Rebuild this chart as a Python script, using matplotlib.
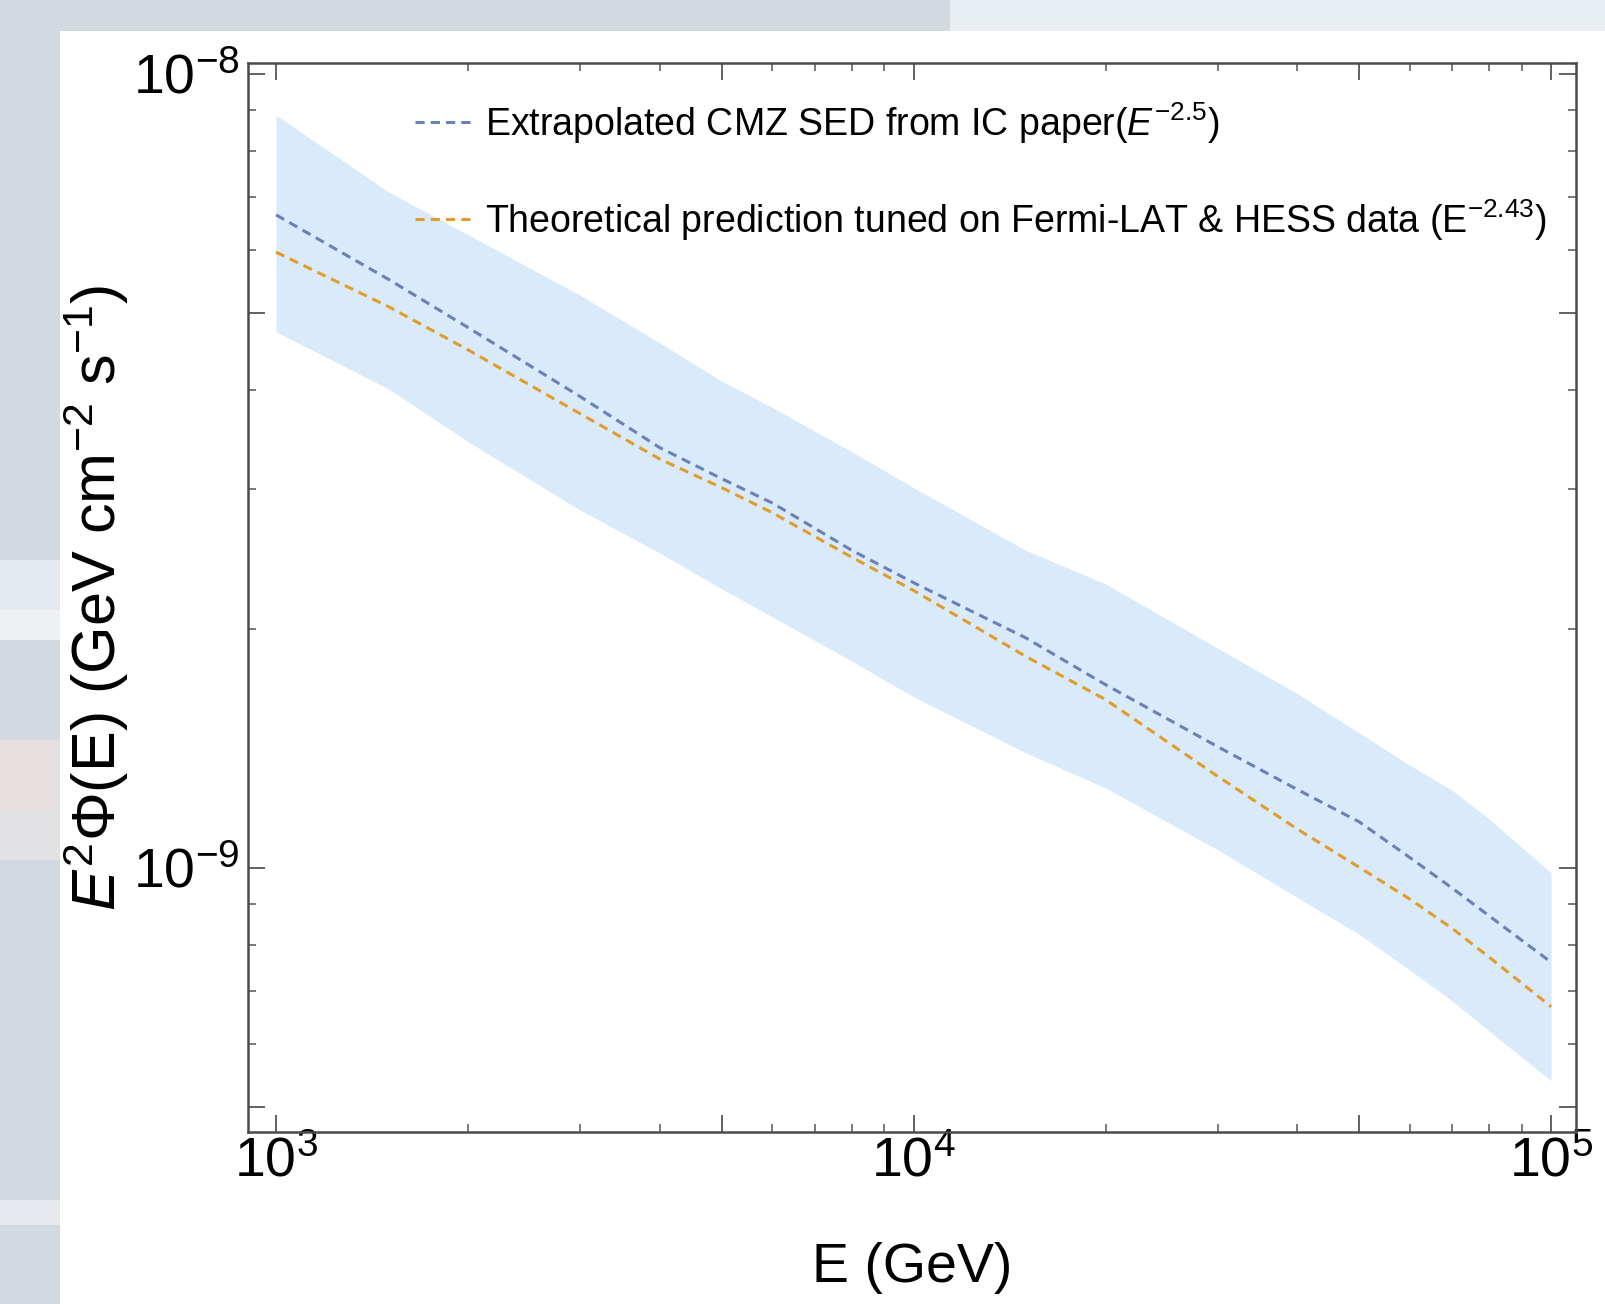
import numpy as np
import matplotlib
matplotlib.use('Agg')
import matplotlib.pyplot as plt
from matplotlib import font_manager
from matplotlib.ticker import FixedLocator, NullFormatter
from matplotlib.patches import Rectangle

# pick a narrow sans if it is there, the original lettering is condensed
names = {f.name for f in font_manager.fontManager.ttflist}
font = 'Liberation Sans Narrow' if 'Liberation Sans Narrow' in names else 'Liberation Sans'
plt.rcParams['font.family'] = [font, 'DejaVu Sans']
plt.rcParams['mathtext.fontset'] = 'custom'
plt.rcParams['mathtext.rm'] = font
plt.rcParams['mathtext.it'] = font + ':italic'
plt.rcParams['mathtext.bf'] = font + ':bold'

# energy grid (GeV)
energy = [1000, 1500, 2000, 3000, 4000, 5000, 6000, 8000, 10000, 15000,
          20000, 30000, 40000, 50000, 60000, 70000, 80000, 100000]

# extrapolated CMZ SED, E^-2.5 (GeV cm^-2 s^-1)
cmz_sed = [6.64e-9, 5.51e-9, 4.79e-9, 3.92e-9, 3.38e-9, 3.09e-9, 2.88e-9, 2.51e-9,
           2.285e-9, 1.947e-9, 1.70e-9, 1.42e-9, 1.254e-9, 1.142e-9, 1.03e-9,
           9.42e-10, 8.69e-10, 7.60e-10]

# theoretical prediction tuned on Fermi-LAT & HESS, E^-2.43
theory = [5.96e-9, 5.09e-9, 4.49e-9, 3.73e-9, 3.27e-9, 3.01e-9, 2.80e-9, 2.46e-9,
          2.234e-9, 1.845e-9, 1.628e-9, 1.303e-9, 1.118e-9, 1.001e-9, 9.13e-10,
          8.38e-10, 7.71e-10, 6.68e-10]

# uncertainty band of the CMZ SED
band_hi = [8.87e-9, 7.10e-9, 6.27e-9, 5.26e-9, 4.58e-9, 4.10e-9, 3.80e-9, 3.34e-9,
           3.01e-9, 2.51e-9, 2.277e-9, 1.89e-9, 1.656e-9, 1.478e-9, 1.346e-9,
           1.251e-9, 1.151e-9, 9.85e-10]
band_lo = [4.73e-9, 4.01e-9, 3.44e-9, 2.82e-9, 2.49e-9, 2.245e-9, 2.07e-9, 1.82e-9,
           1.641e-9, 1.395e-9, 1.26e-9, 1.053e-9, 9.17e-10, 8.24e-10, 7.43e-10,
           6.79e-10, 6.22e-10, 5.39e-10]

# ticks
x_major = [1e3, 1e4, 1e5]
x_labels = [r'$10^{3}$', r'$10^{4}$', r'$10^{5}$']
x_minor = [m * 10.0 ** e for e in (3, 4) for m in range(2, 10)]
y_major = [1e-9, 1e-8]
y_labels = [r'$10^{-9}$', r'$10^{-8}$']
y_minor = [m * 1e-10 for m in range(5, 10)] + [m * 1e-9 for m in range(2, 10)]

fig = plt.figure(figsize=(16.05, 13.04), dpi=100, facecolor='#d2d9e1')

# blurry page behind the chart
bg = [((60 / 1605, 0), 1, 1 - 31 / 1304, 'white'),
      ((950 / 1605, 1 - 31 / 1304), 1, 1, '#e8eef4')]
for y0, h, c in [(560, 50, '#e4eaef'), (610, 30, '#edf1f4'), (740, 70, '#e6dfe0'),
                 (810, 50, '#e2e2e4'), (1200, 25, '#e6eaee')]:
    bg.append(((0, 1 - (y0 + h) / 1304), 60 / 1605, h / 1304, c))
for xy, w, h, c in bg:
    fig.patches.append(Rectangle(xy, w, h, transform=fig.transFigure,
                                 facecolor=c, edgecolor='none', zorder=-10))

ax = fig.add_axes([248 / 1605, 1 - 1132 / 1304, (1576 - 248) / 1605, (1132 - 63) / 1304])
ax.set_zorder(5)
ax.set_xscale('log')
ax.set_yscale('log')

ax.fill_between(energy, band_lo, band_hi, color='#d9ebfa', lw=0, zorder=1)
ax.plot(energy, cmz_sed, color='#6a80b6', lw=2.2, dashes=(3.0, 2.0), zorder=3,
        label=r'Extrapolated CMZ SED from IC paper($E^{-2.5}$)')
ax.plot(energy, theory, color='#e19c2c', lw=2.2, dashes=(3.0, 2.0), zorder=2,
        label=r'Theoretical prediction tuned on Fermi-LAT & HESS data (E$^{\mathrm{-2.43}}$)')

ax.set_xlim(10 ** 2.956, 10 ** 5.039)
ax.set_ylim(10 ** -9.333, 10 ** -7.9865)

ax.set_xticks(x_major, x_labels)
ax.set_yticks(y_major, y_labels)
ax.xaxis.set_minor_locator(FixedLocator(x_minor))
ax.yaxis.set_minor_locator(FixedLocator(y_minor))
ax.xaxis.set_minor_formatter(NullFormatter())
ax.yaxis.set_minor_formatter(NullFormatter())

ax.tick_params(which='both', direction='in', top=True, right=True, colors='#555555',
               labelcolor='black', labelsize=40)
ax.tick_params(which='major', length=12, width=1.3)
ax.tick_params(which='minor', length=6, width=1.1)
ax.tick_params(axis='x', pad=3)
ax.tick_params(axis='y', pad=6)

# the 5x ticks are drawn longer, like in the original
for axis in (ax.xaxis, ax.yaxis):
    locs = axis.get_minorticklocs()
    for tick, v in zip(axis.get_minor_ticks(len(locs)), locs):
        if abs(v / 10 ** np.floor(np.log10(v)) - 5) < 1e-6:
            tick.tick1line.set_markersize(12)
            tick.tick2line.set_markersize(12)
            tick.tick1line.set_markeredgewidth(1.3)
            tick.tick2line.set_markeredgewidth(1.3)

for s in ax.spines.values():
    s.set_color('#4a4a4a')
    s.set_linewidth(1.8)

ax.set_xlabel('E (GeV)', fontsize=40)
ax.xaxis.set_label_coords(0.5, -0.103)
ax.set_ylabel(r'$E^{2}$Φ(E) (GeV cm$^{-2}$ s$^{-1}$)', fontsize=44)
ax.yaxis.set_label_coords(-0.088, 0.5)

ax.legend(loc='upper left', bbox_to_anchor=(0.106, 0.99), frameon=False, fontsize=27,
          handlelength=1.6, handletextpad=0.27, labelspacing=1.37, borderaxespad=0.3)

fig.savefig('out.png', dpi=100, facecolor=fig.get_facecolor())
